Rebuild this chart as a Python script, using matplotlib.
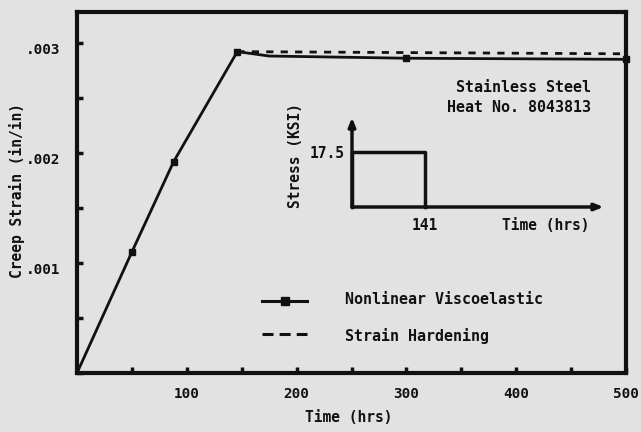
import matplotlib
matplotlib.use("Agg")
import matplotlib.pyplot as plt
import matplotlib.transforms as mtransforms
from matplotlib.ticker import FixedLocator, MultipleLocator, FixedFormatter

# ---- data ----
visco_time = [0, 50, 88, 146, 175, 300, 500]
visco_strain = [0.0, 0.00110, 0.00192, 0.00292, 0.00288, 0.00286, 0.00285]
visco_marker_idx = [1, 2, 3, 5, 6]
hard_time = [146, 500]
hard_strain = [0.00292, 0.00290]

x_ticks = [100, 200, 300, 400, 500]
x_tick_labels = ["100", "200", "300", "400", "500"]
y_ticks = [0.001, 0.002, 0.003]
y_tick_labels = [".001", ".002", ".003"]

inset_time = [0, 0, 141, 141]
inset_stress = [0, 17.5, 17.5, 0]

BG = "#e2e2e2"
INK = "#111111"
FONT = "DejaVu Sans Mono"

plt.rcParams["font.family"] = FONT
plt.rcParams["font.weight"] = "bold"
plt.rcParams["axes.labelweight"] = "bold"

W, H = 641, 432
fig = plt.figure(figsize=(W / 100, H / 100), dpi=100, facecolor=BG)

def fx(px):
    return px / W

def fy(py):
    return 1 - py / H

AX_L, AX_R, AX_T, AX_B = 77, 626, 12, 373
ax = fig.add_axes([fx(AX_L), fy(AX_B), fx(AX_R) - fx(AX_L), fy(AX_T) - fy(AX_B)])
ax.set_facecolor(BG)
ax.set_xlim(0, 500)
ax.set_ylim(0, 0.00328)

for s in ax.spines.values():
    s.set_linewidth(3)
    s.set_color(INK)

ax.xaxis.set_major_locator(FixedLocator(x_ticks))
ax.xaxis.set_major_formatter(FixedFormatter(x_tick_labels))
ax.xaxis.set_minor_locator(MultipleLocator(50))
ax.yaxis.set_major_locator(FixedLocator(y_ticks))
ax.yaxis.set_major_formatter(FixedFormatter(y_tick_labels))
ax.yaxis.set_minor_locator(MultipleLocator(0.0005))
ax.tick_params(which="both", direction="in", length=4, width=2.5, color=INK,
               labelsize=10.3, labelcolor=INK)
ax.tick_params(axis="x", which="major", pad=10)
ax.tick_params(axis="y", which="major", pad=12)
ydown = mtransforms.ScaledTranslation(0, -6 / 100, fig.dpi_scale_trans)
for lab in ax.get_yticklabels():
    lab.set_transform(lab.get_transform() + ydown)

ax.plot(visco_time, visco_strain, color=INK, lw=2.0, solid_joinstyle="round")
ax.plot([visco_time[i] for i in visco_marker_idx],
        [visco_strain[i] for i in visco_marker_idx],
        ls="none", marker="s", ms=5, color=INK, clip_on=False)
ax.plot(hard_time, hard_strain, color=INK, lw=2.0, ls=(0, (2.6, 2.6)), clip_on=False)

ax.set_xlabel("Time (hrs)", fontsize=10.5, color=INK, fontweight="bold")
ax.xaxis.set_label_coords((349 - AX_L) / (AX_R - AX_L), -(418 - AX_B) / (AX_B - AX_T))
ax.xaxis.label.set_va("center")
ax.set_ylabel("Creep Strain (in/in)", fontsize=10.5, color=INK, fontweight="bold")
ax.yaxis.set_label_coords(-(AX_L - 17) / (AX_R - AX_L), (AX_B - 190) / (AX_B - AX_T))
ax.yaxis.label.set_va("center")

# annotation text
fig.text(fx(591), fy(88), "Stainless Steel", ha="right", va="center",
         fontsize=10.8, color=INK)
fig.text(fx(591), fy(108), "Heat No. 8043813", ha="right", va="center",
         fontsize=10.8, color=INK)

# legend (manual)
lx0, lx1 = fx(262), fx(307)
fig.add_artist(plt.Line2D([lx0, lx1], [fy(301), fy(301)], color=INK, lw=2.2,
                          transform=fig.transFigure))
fig.add_artist(plt.Line2D([fx(285)], [fy(301)], color=INK, marker="s", ms=6,
                          transform=fig.transFigure))
fig.add_artist(plt.Line2D([lx0, lx1], [fy(334), fy(334)], color=INK, lw=2.2,
                          ls=(0, (3.6, 2.0)), transform=fig.transFigure))
fig.text(fx(345), fy(300), "Nonlinear Viscoelastic", ha="left", va="center",
         fontsize=10.8, color=INK)
fig.text(fx(345), fy(336), "Strain Hardening", ha="left", va="center",
         fontsize=10.8, color=INK)

# inset stress history
ix0, ix1, iy0, iy1 = 352, 610, 207, 112
ins = fig.add_axes([fx(ix0), fy(iy0), fx(ix1) - fx(ix0), fy(iy1) - fy(iy0)])
ins.set_xlim(0, (ix1 - ix0) * 141 / (425 - 352))
ins.set_ylim(0, (iy0 - iy1) * 17.5 / (207 - 152))
ins.axis("off")
ins.patch.set_alpha(0)
ins.plot(inset_time, inset_stress, color=INK, lw=2.5, clip_on=False)
ins.annotate("", xy=(0, 28.5), xytext=(0, 0),
             arrowprops=dict(arrowstyle="-|>,head_length=0.5,head_width=0.2",
                             color=INK, lw=2.5, shrinkA=0, shrinkB=0))
ins.annotate("", xy=(486, 0), xytext=(0, 0),
             arrowprops=dict(arrowstyle="-|>,head_length=0.5,head_width=0.2",
                             color=INK, lw=2.5, shrinkA=0, shrinkB=0))
fig.text(fx(345), fy(153), "17.5", ha="right", va="center", fontsize=10.5, color=INK)
fig.text(fx(425), fy(226), "141", ha="center", va="center", fontsize=10.5, color=INK)
fig.text(fx(546), fy(226), "Time (hrs)", ha="center", va="center", fontsize=10.5, color=INK)
fig.text(fx(295), fy(155), "Stress (KSI)", ha="center", va="center", rotation=90,
         fontsize=10.5, color=INK)

fig.savefig("out.png", dpi=100, facecolor=BG)
